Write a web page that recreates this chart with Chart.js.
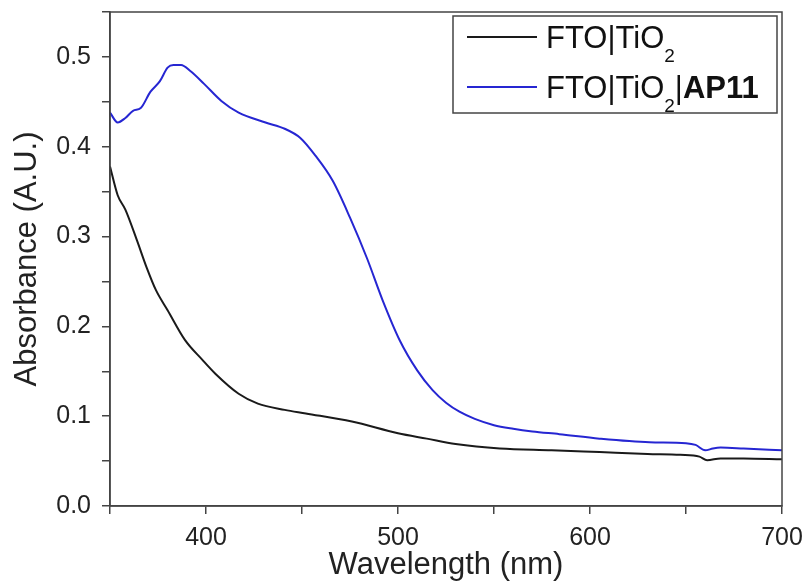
<!DOCTYPE html>
<html>
<head>
<meta charset="utf-8">
<script src="https://cdn.jsdelivr.net/npm/chart.js@4.4.0/dist/chart.umd.min.js"></script>
<style>
  html, body { margin: 0; padding: 0; background: #fff; }
  #wrap { width: 809px; height: 584px; }
</style>
</head>
<body>
<div id="wrap"><canvas id="chart" width="809" height="584"></canvas></div>
<script>
// FTO|TiO2 (bare film)
const bareWl  = [350, 354, 358, 364, 369, 374, 380, 389, 398, 405, 417, 427, 441, 452, 476, 500, 515, 530, 553, 580, 605, 630, 647, 657, 661, 668, 680, 700];
const bareAbs = [0.378, 0.346, 0.330, 0.296, 0.266, 0.240, 0.218, 0.185, 0.163, 0.147, 0.125, 0.114, 0.107, 0.103, 0.094, 0.081, 0.075, 0.069, 0.064, 0.062, 0.060, 0.058, 0.057, 0.055, 0.051, 0.053, 0.053, 0.052];

// FTO|TiO2|AP11 (sensitised film)
const dyeWl  = [350, 354, 358, 362, 366, 371, 376, 380, 383, 387, 392, 399, 408, 417, 431, 441, 449, 457, 466, 475, 484, 492, 501, 510, 518, 525, 532, 540, 550, 560, 570, 584, 605, 631, 650, 655, 660, 664, 668, 680, 700];
const dyeAbs = [0.438, 0.427, 0.432, 0.440, 0.443, 0.461, 0.473, 0.488, 0.491, 0.491, 0.484, 0.470, 0.451, 0.438, 0.427, 0.420, 0.410, 0.390, 0.362, 0.321, 0.275, 0.229, 0.184, 0.151, 0.129, 0.115, 0.105, 0.097, 0.090, 0.086, 0.083, 0.080, 0.075, 0.071, 0.070, 0.068, 0.062, 0.064, 0.065, 0.064, 0.062];

const seriesNames = ['FTO|TiO2', 'FTO|TiO2|AP11'];
// legend text pieces: [text, style]
const legendParts = [
    [['FTO|TiO', ''], ['2', 'sub']],
    [['FTO|TiO', ''], ['2', 'sub'], ['|', ''], ['AP11', 'bold']]
];

const FONT = "'Liberation Sans', Arial, sans-serif";
const AXIS = '#444';

function toPoints(xs, ys) {
    return xs.map((x, i) => ({ x: x, y: ys[i] }));
}

// box around the plot area
const framePlugin = {
    id: 'frame',
    afterDatasetsDraw(chart) {
        const { ctx, chartArea: a } = chart;
        ctx.save();
        ctx.strokeStyle = AXIS;
        ctx.lineWidth = 1.5;
        ctx.strokeRect(a.left, a.top, a.right - a.left, a.bottom - a.top);
        ctx.restore();
    }
};

// legend with subscript and bold parts
const richLegend = {
    id: 'richLegend',
    afterDraw(chart) {
        const { ctx, chartArea: a } = chart;
        const w = 324, h = 97;
        const x0 = a.right - w - 5, y0 = a.top + 4;
        ctx.save();
        ctx.fillStyle = '#fff';
        ctx.fillRect(x0, y0, w, h);
        ctx.strokeStyle = AXIS;
        ctx.lineWidth = 1.5;
        ctx.strokeRect(x0, y0, w, h);

        chart.data.datasets.forEach((ds, i) => {
            const cy = y0 + 21 + i * 50;
            ctx.strokeStyle = ds.borderColor;
            ctx.lineWidth = 2;
            ctx.beginPath();
            ctx.moveTo(x0 + 14, cy);
            ctx.lineTo(x0 + 84, cy);
            ctx.stroke();

            let x = x0 + 93;
            const base = cy + 11;
            ctx.fillStyle = '#111';
            ctx.textBaseline = 'alphabetic';
            legendParts[i].forEach(([t, style]) => {
                if (style === 'sub') {
                    ctx.font = '19px ' + FONT;
                    ctx.fillText(t, x, base + 14);
                } else {
                    ctx.font = (style === 'bold' ? 'bold ' : '') + '31px ' + FONT;
                    ctx.fillText(t, x, base);
                }
                x += ctx.measureText(t).width;
            });
        });
        ctx.restore();
    }
};

new Chart(document.getElementById('chart'), {
    type: 'line',
    data: {
        datasets: [
            {
                label: seriesNames[0],
                data: toPoints(bareWl, bareAbs),
                borderColor: '#1a1a1a',
                borderWidth: 2,
                pointRadius: 0,
                cubicInterpolationMode: 'monotone',
                fill: false
            },
            {
                label: seriesNames[1],
                data: toPoints(dyeWl, dyeAbs),
                borderColor: '#2626d2',
                borderWidth: 2,
                pointRadius: 0,
                cubicInterpolationMode: 'monotone',
                fill: false
            }
        ]
    },
    options: {
        responsive: false,
        animation: false,
        layout: { padding: { top: 12, right: 27, left: 0, bottom: 0 } },
        plugins: {
            legend: { display: false },
            tooltip: { enabled: false }
        },
        scales: {
            x: {
                type: 'linear',
                min: 350,
                max: 700,
                afterFit(scale) {
                    scale.height = 78;
                    scale.paddingLeft = 0;
                    scale.paddingRight = 0;
                },
                ticks: {
                    stepSize: 50,
                    autoSkip: false,
                    maxRotation: 0,
                    padding: 9,
                    color: '#222',
                    font: { family: FONT, size: 25 },
                    callback: v => (v % 100 === 0 ? String(v) : '')
                },
                grid: { drawOnChartArea: false, tickLength: 8, color: AXIS, lineWidth: 1.5 },
                border: { color: AXIS, width: 1.5 },
                title: {
                    display: true,
                    text: 'Wavelength (nm)',
                    color: '#222',
                    font: { family: FONT, size: 31 },
                    padding: { top: 0, bottom: 0 }
                }
            },
            y: {
                min: 0,
                max: 0.55,
                afterFit(scale) {
                    scale.width = 110;
                    scale.paddingTop = 0;
                    scale.paddingBottom = 0;
                },
                ticks: {
                    stepSize: 0.05,
                    autoSkip: false,
                    padding: 11,
                    color: '#222',
                    font: { family: FONT, size: 25 },
                    callback: v => {
                        const r = Math.round(v * 100);
                        return r % 10 === 0 ? (r / 100).toFixed(1) : '';
                    }
                },
                grid: { drawOnChartArea: false, tickLength: 8, color: AXIS, lineWidth: 1.5 },
                border: { color: AXIS, width: 1.5 },
                title: {
                    display: true,
                    text: 'Absorbance (A.U.)',
                    color: '#222',
                    font: { family: FONT, size: 31 },
                    padding: { top: 9, bottom: 0 }
                }
            }
        }
    },
    plugins: [framePlugin, richLegend]
});
</script>
</body>
</html>
